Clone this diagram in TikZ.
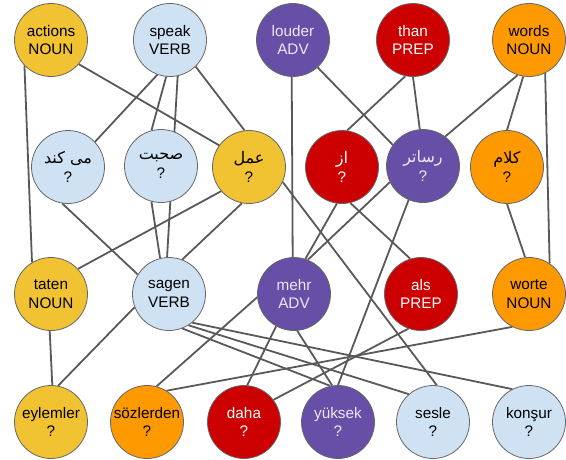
\documentclass[tikz,border=0pt]{standalone}
\usepackage{fontspec}
\setmainfont{Liberation Sans}
\newfontfamily\farsi[Script=Arabic]{DejaVu Sans}
\TeXXeTstate=1
\usetikzlibrary{backgrounds}
\definecolor{cyel}{HTML}{F1C232}
\definecolor{cblu}{HTML}{CFE2F3}
\definecolor{cpur}{HTML}{674EA7}
\definecolor{cred}{HTML}{CC0000}
\definecolor{cora}{HTML}{FF9900}
\definecolor{cedge}{HTML}{595959}
\definecolor{cline}{HTML}{666666}
\definecolor{cpurtext}{HTML}{EEE8FA}
\newcommand\fa[1]{{\farsi\fontsize{16}{18.5}\selectfont\beginR #1\endR}}
\tikzset{
  wn/.style={circle, minimum size=73pt, inner sep=0pt, draw=cline, line width=0.8pt,
    align=center, font=\fontsize{15.3}{18.5}\selectfont},
  yel/.style={wn, fill=cyel, text=black},
  blu/.style={wn, fill=cblu, text=black},
  pur/.style={wn, fill=cpur, text=cpurtext},
  rd/.style={wn, fill=cred, text=white},
  ora/.style={wn, fill=cora, text=black},
  edge/.style={draw=cedge, line width=1.8pt}
}
\begin{document}
\begin{tikzpicture}[x=1pt,y=-1pt]
\useasboundingbox (0,0) rectangle (566,459);
% row 1
\node[yel] (actions) at (51,40) {actions\\NOUN};
\node[blu] (speak) at (170,40) {speak\\VERB};
\node[pur] (louder) at (293,40) {louder\\ADV};
\node[rd] (than) at (413,40) {than\\PREP};
\node[ora] (words) at (529,40) {words\\NOUN};
% row 2
\node[blu] (mikonad) at (68,167) {\fa{می کند}\\?};
\node[blu] (sohbat) at (161,166) {\fa{صحبت}\\?};
\node[yel] (amal) at (249,167) {\fa{عمل}\\?};
\node[rd] (az) at (342,167) {\fa{از}\\?};
\node[pur] (rasatar) at (423,166) {\fa{رساتر}\\?};
\node[ora] (kalam) at (507,167) {\fa{کلام}\\?};
% row 3
\node[yel] (taten) at (51,294) {taten\\NOUN};
\node[blu] (sagen) at (169,294) {sagen\\VERB};
\node[pur] (mehr) at (294,294) {mehr\\ADV};
\node[rd] (als) at (421,294) {als\\PREP};
\node[ora] (worte) at (529,294) {worte\\NOUN};
% row 4
\node[yel] (eylemler) at (51,422) {eylemler\\?};
\node[ora] (sozlerden) at (147,422) {sözlerden\\?};
\node[rd] (daha) at (244,422) {daha\\?};
\node[pur] (yuksek) at (338,422) {yüksek\\?};
\node[blu] (sesle) at (433,422) {sesle\\?};
\node[blu] (konsur) at (529,422) {konşur\\?};
\begin{pgfonlayer}{background}
\draw[edge] (actions.-136) -- (taten.121);
\draw[edge] (actions.-41) -- (amal.144);
\draw[edge] (speak.-110) -- (mikonad.43);
\draw[edge] (speak.-96) -- (sohbat.105);
\draw[edge] (speak.-78) -- (sagen.93);
\draw[edge] (speak.-46) -- (amal.97);
\draw[edge] (louder.-48) -- (rasatar.145);
\draw[edge] (louder.-92) -- (mehr.92);
\draw[edge] (than.-102) -- (az.82);
\draw[edge] (than.-90) -- (rasatar.95);
\draw[edge] (words.-108) -- (rasatar.53);
\draw[edge] (words.-99) -- (kalam.90);
\draw[edge] (words.-64) -- (worte.56);
\draw[edge] (mikonad.-99) -- (sagen.148);
\draw[edge] (sohbat.-105) -- (sagen.104);
\draw[edge] (amal.-139) -- (taten.43);
\draw[edge] (amal.-101) -- (sagen.69);
\draw[edge] (amal.-24) -- (sesle.84);
\draw[edge] (az.-98) -- (mehr.72);
\draw[edge] (az.-77) -- (als.107);
\draw[edge] (rasatar.-154) -- (mehr.68);
\draw[edge] (rasatar.-113) -- (yuksek.90);
\draw[edge] (kalam.-90) -- (worte.96);
\draw[edge] (taten.-92) -- (eylemler.88);
\draw[edge] (sagen.-159) -- (eylemler.79);
\draw[edge] (sagen.-51) -- (konsur.117);
\draw[edge] (sagen.-58) -- (sesle.131);
\draw[edge] (sagen.-69) -- (yuksek.102);
\draw[edge] (mehr.-175) -- (sozlerden.75);
\draw[edge] (mehr.-119) -- (daha.85);
\draw[edge] (mehr.-85) -- (yuksek.99);
\draw[edge] (als.-110) -- (daha.37);
\draw[edge] (worte.-117) -- (sozlerden.58);
\end{pgfonlayer}
\end{tikzpicture}
\end{document}
